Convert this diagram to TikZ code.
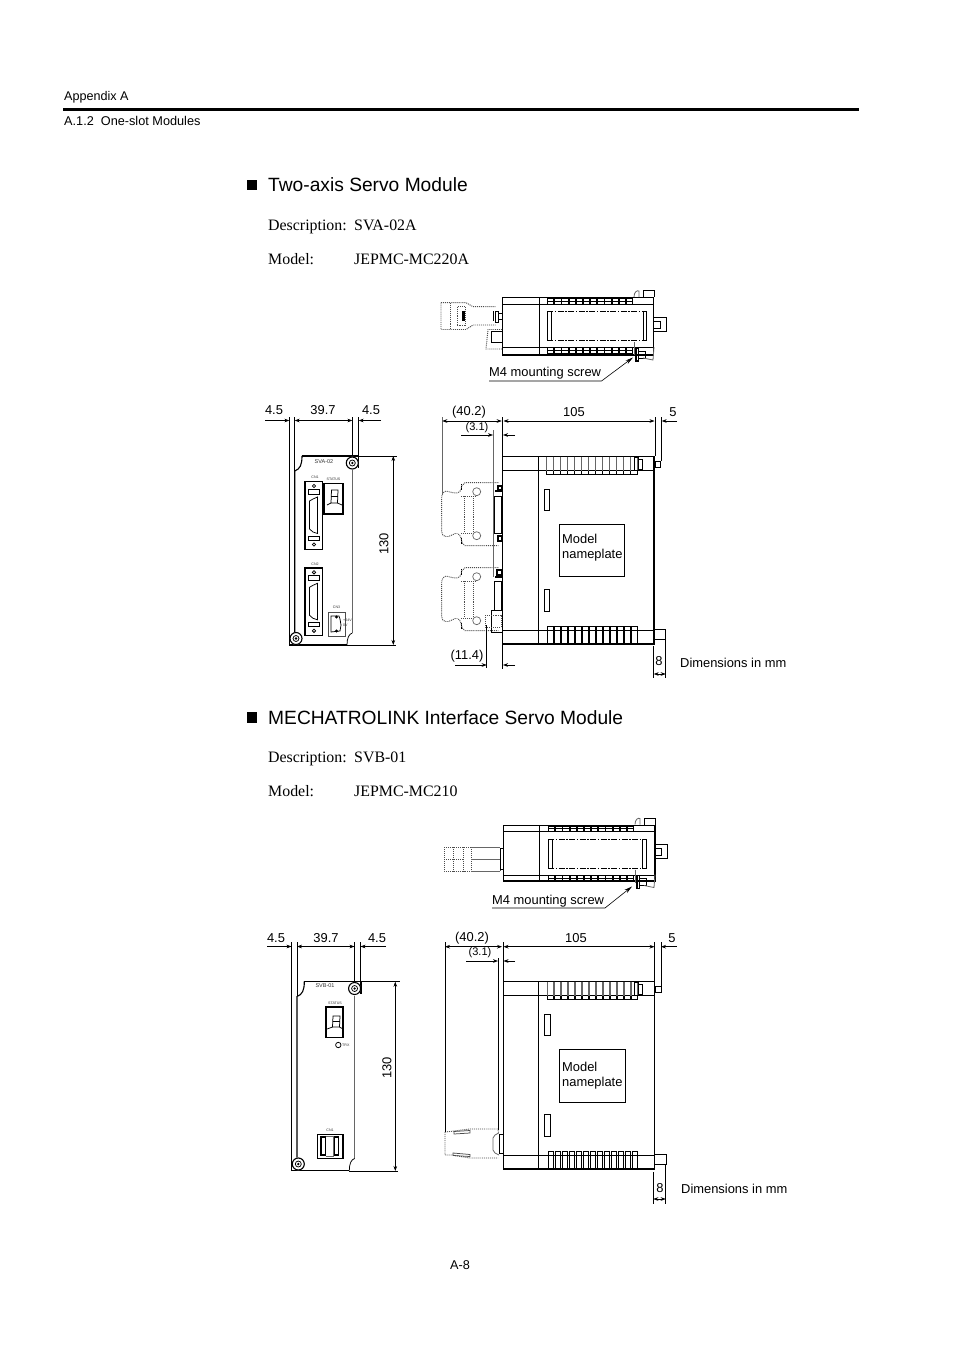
\documentclass[tikz,border=0pt]{standalone}
\usepackage{fontspec}
\setmainfont{Liberation Sans}
\newfontfamily\serifface{Liberation Serif}
\usetikzlibrary{arrows.meta}
\tikzset{
 lbl/.style={inner sep=0pt,font=\fontsize{12.9}{15}\selectfont},
 lft/.style={lbl,anchor=west},
 smallbl/.style={inner sep=0pt,font=\fontsize{11}{13}\selectfont},
 head/.style={inner sep=0pt,anchor=base west,font=\fontsize{19.2}{24}\selectfont},
 desc/.style={inner sep=0pt,anchor=base west,font=\serifface\fontsize{15.9}{18}\selectfont},
 tiny/.style={inner sep=0pt,font=\fontsize{5.5}{6}\selectfont,text=black!80},
 tinier/.style={inner sep=0pt,font=\fontsize{3.6}{4}\selectfont,text=black!80},
 ln/.style={line width=0.75pt},
 hv/.style={line width=1.1pt},
 ext/.style={line width=0.7pt},
 gry/.style={line width=0.8pt,black!60},
 dsh/.style={line width=0.95pt,black!70,densely dotted},
 dim/.style={line width=0.6pt,-{Stealth[length=5pt,width=3.6pt]}},
 dimb/.style={line width=0.6pt,{Stealth[length=5pt,width=3.6pt]}-{Stealth[length=5pt,width=3.6pt]}},
}
% front view panel, common outline
\newcommand{\frontpanel}{
 \draw[hv] (302,456) .. controls (302,465) and (300,469) .. (294.7,471) -- (294.7,632);
 \draw[gry,line width=1pt] (352.3,470) -- (352.3,633);
 \draw[hv] (302,456) -- (346,456);
 \draw[hv] (289.3,645) -- (347,645);
 \draw[ln] (347,645) .. controls (347,638) and (349,634) .. (352.3,633);
 \draw[hv] (346,456) -- (358.7,456) -- (358.7,468);
 \fill[white] (352.3,463) circle (6.3);
 \draw[hv] (352.3,463) circle (6);
 \draw[ln] (352.3,463) circle (3); \fill (352.3,463) circle (1.3);
 \fill[white] (296,638.5) circle (6.3);
 \draw[hv] (296,638.5) circle (6);
 \draw[ln] (296,638.5) circle (3); \fill (296,638.5) circle (1.3);
}
% side view common parts
\newcommand{\sidecommon}{
 \draw[hv] (502.7,456.7) rectangle (654,644);
 \draw[ln] (502.7,470.7) -- (654,470.7);
 \draw[ln] (502.7,630) -- (654,630);
 \foreach \i in {0,...,12}{
  \draw[gry] ({546.7+7*\i},456.7) -- ({546.7+7*\i},470.7);
  \draw[gry] ({553+7*\i},456.7) -- ({553+7*\i},470.7);
  \draw[ln] ({546.7+7*\i},470.7) -- ({546.7+7*\i},474) -- ({553.2+7*\i},474) -- ({553.2+7*\i},470.7);
  \draw[ln] ({547.5+7*\i},644) -- ({547.5+7*\i},626) -- ({553+7*\i},626) -- ({553+7*\i},644);
 }
 \draw[ln] (634,457) rectangle (638,470);
 \draw[ln] (638,459) rectangle (642,469);
 \draw[ln] (655,461) rectangle (660.7,467.5);
 \draw[ln] (654,629.5) rectangle (665.7,639.5);
 \draw[ln] (544.3,489) rectangle (549.7,510.5);
 \draw[ln] (544.3,589) rectangle (549.7,611);
}
% top view common parts
\newcommand{\topslots}{
 \foreach \i in {0,...,11}{
  \draw[ln] ({547.5+7.17*\i},298.5) rectangle ({553.7+7.17*\i},304);
  \draw[ln] ({547.5+7.17*\i},301) -- ({553.7+7.17*\i},301);
  \draw[ln] ({547.5+7.17*\i},347.5) rectangle ({553.7+7.17*\i},353.5);
  \draw[ln] ({547.5+7.17*\i},350.5) -- ({553.7+7.17*\i},350.5);
 }
 \draw[ln] (653.3,317) -- (666,317) -- (666,331) -- (653.3,331);
 \draw[ln] (653.3,321) -- (660,321) -- (660,328) -- (653.3,328);
 \draw[ln] (643,297) -- (643,290.5) -- (654,290.5) -- (654,297);
 \draw[gry] (634,297) .. controls (634,292) and (637,290) .. (639,291) -- (639,297);
 \draw[gry] (634,342) -- (634,355);
 \draw[hv] (636,348) rectangle (638.5,361);
 \draw[ln] (638.5,351) rectangle (645,358);
 \draw[gry] (643,358) -- (653,360) -- (654,347);
}
% dashed connector, side view
\newcommand{\dashconn}[1]{
 \begin{scope}[yshift=#1]
 \draw[dsh] (498.3,482.7) -- (465,482.7) -- (461.7,486) -- (461,490) .. controls (457,497) and (447,489) .. (444,492)
   .. controls (441,495) and (441.7,498) .. (441.7,500) -- (441.7,531.7) .. controls (442,537) and (447,538) .. (452,535)
   .. controls (457,532) and (459,533) .. (461,538) .. controls (462,543) and (463,545) .. (465,545.7) -- (498.3,545.7);
 \draw[dsh] (464.3,496) -- (464.3,533);
 \draw[dsh] (473.3,496) -- (473.3,533);
 \draw[dsh] (461,496) -- (475,496);
 \draw[dsh] (461,533) -- (475,533);
 \fill[white] (476.7,491.7) circle (4); \draw[gry,line width=.7pt] (476.7,491.7) circle (4);
 \fill[white] (476.7,535.7) circle (4); \draw[gry,line width=.7pt] (476.7,535.7) circle (4);
 \draw[ln,densely dotted,line width=1.1pt] (461.7,484) -- (461.7,490);
 \draw[ln,densely dotted,line width=1.1pt] (461.7,538) -- (461.7,544);
 \end{scope}
}
% common D-sub connector, front view
\newcommand{\dsub}[2]{
 \begin{scope}[shift={(#1,#2)}]
  \draw[hv] (305,481.7) rectangle (322.7,549.3);
  \draw[ln] (308.5,489.5) rectangle (319.5,494.5);
  \draw[ln] (308.5,536) rectangle (319.5,540.5);
  \draw[ln] (314,486) circle (1.7); \draw[ln] (314,544.5) circle (1.7);
  \draw[ln] (317.5,497) -- (313,499) -- (309.5,501) -- (309.5,529) -- (313,532) -- (317.5,533.5) -- cycle;
 \end{scope}
}
\begin{document}
\begin{tikzpicture}[x=1pt,y=-1pt]
\useasboundingbox (0,0) rectangle (954,1351);
\fill[white] (0,0) rectangle (954,1351);

% header
\node[lft,font=\fontsize{12.6}{14}\selectfont] (hdA) at (64,97) {Appendix A};
\fill (63,108) rectangle (859,111.5);
\node[lft,font=\fontsize{12.7}{14}\selectfont] (hdB) at (64,121) {A.1.2\ \ One-slot Modules};
\node[lbl,font=\fontsize{12.7}{14}\selectfont] (pg) at (460,1265) {A-8};

% headings
\fill (246.5,180) rectangle (257,190.5);
\node[head] (t1) at (268,192) {Two-axis Servo Module};
\node[desc] (d1a) at (268,230) {Description:};
\node[desc] (d1b) at (354,230) {SVA-02A};
\node[desc] (d1c) at (268,264) {Model:};
\node[desc] (d1d) at (354,264) {JEPMC-MC220A};

\fill (246.5,712) rectangle (257,722.5);
\node[head] (t2) at (268,724) {MECHATROLINK Interface Servo Module};
\node[desc] (d2a) at (268,762) {Description:};
\node[desc] (d2b) at (354,762) {SVB-01};
\node[desc] (d2c) at (268,796) {Model:};
\node[desc] (d2d) at (354,796) {JEPMC-MC210};

%%%%% Top view 1
\draw[hv] (502.3,297.3) rectangle (653.3,355);
\draw[ln] (502.3,304) -- (653.3,304);
\draw[ln] (502.3,347.3) -- (653.3,347.3);
\draw[ln] (539.7,297.3) -- (539.7,355);
\draw[ln,dash pattern=on 6pt off 1.5pt on 1.5pt off 1.5pt] (547.3,311) -- (646.7,311);
\draw[ln,dash pattern=on 6pt off 1.5pt on 1.5pt off 1.5pt] (547.3,340.7) -- (646.7,340.7);
\draw[ln] (547.3,311) rectangle (551,340.7);
\draw[ln] (643,311) rectangle (646.7,340.7);
\topslots
\draw[dsh] (441,302.7) -- (466,302.7) -- (473,306.7) -- (496,306.7);
\draw[dsh] (441,302.7) -- (441,329.5) -- (466,329.5) -- (473,325) -- (496,325);
\draw[dsh] (450.7,303) -- (450.7,329);
\draw[dsh] (457.3,306.7) rectangle (465,325);
\fill (461.5,311) rectangle (464.5,321);
\draw[hv] (493.5,311) -- (493.5,321);
\draw[ln] (495,311) rectangle (498.5,322);
\draw[ln] (498.5,313) rectangle (502.3,319.5);
\draw[dsh] (502,329.5) -- (488,329.5) -- (486,349) -- (502,349);
\draw[ln] (491.7,331.7) rectangle (502.3,342);

\node[lft] (m4a) at (489,373) {M4 mounting screw};
\coordinate (m4aEnd) at (633,357.5);
\draw[line width=0.6pt,-{Stealth[length=8pt,width=4pt]}] (489,381) -- (601.5,381) -- (m4aEnd);

%%%%% Front view 1
\frontpanel
\node[tiny] (sva) at (324,461.5) {SVA-02};
\node[tinier] (cn1) at (315,477) {CN1};
\node[tinier] (stt) at (333.5,479.5) {STATUS};
\dsub{0}{0}
\dsub{0}{86.3}
\node[tinier] (cn2) at (315,564) {CN2};
\node[tinier] (cn3) at (336.5,607.5) {CN3};
\draw[hv] (324,483.5) rectangle (343,514);
\draw[ln] (331.5,490) -- (338,490) -- (337.5,503) -- (331,503) -- cycle;
\draw[ln] (331.2,496.5) -- (337.7,496.5);
\draw[ln] (327,505) -- (331,503); \draw[ln] (337.5,503) -- (342,505);
\draw[line width=1pt,black!70] (328.5,612) rectangle (345,636);
\draw[ln] (331,616) -- (339,616) -- (340,619) -- (341,625) -- (340,631) -- (331,632) -- cycle;
\draw[ln] (336.5,617) circle (1); \draw[ln] (336.5,631) circle (1);
\node[tinier,anchor=west] (v24) at (343,620.5) {+24V};
\node[tinier,anchor=west] (v0) at (343,625.5) {0V};

% dims front 1
\draw[ext] (289.3,417) -- (289.3,645);
\draw[ext] (294.7,417) -- (294.7,471);
\draw[ext] (352.3,417) -- (352.3,456);
\draw[ext] (358.7,417) -- (358.7,456);
\draw[dim] (265,420.5) -- (289.3,420.5);
\draw[dimb] (294.7,420.5) -- (352.3,420.5);
\draw[dim] (381,420.5) -- (358.7,420.5);
\node[lbl] (a1) at (274,410.5) {4.5};
\node[lbl] (a2) at (323,410.5) {39.7};
\node[lbl] (a3) at (371,410.5) {4.5};
\draw[ext] (358.7,456) -- (397,456);
\draw[ext] (347,645) -- (396,645);
\draw[dimb] (393.3,456) -- (393.3,645);
\node[lbl,rotate=90] (a4) at (384,544) {130};

%%%%% Side view 1
\sidecommon
\draw[ln] (538.3,456.7) -- (538.3,644);
\draw[ln] (559.3,524.3) rectangle (624,576.3);
\node[lft] (mp1) at (562,539) {Model};
\node[lft] (mp2) at (562,555) {nameplate};
\dashconn{0}
\dashconn{-85}
\draw[ln] (494.5,496) rectangle (501.7,533);
\draw[hv] (498,486) rectangle (502,490);
\draw[hv] (495,491) -- (502,491);
\draw[hv] (498,536) rectangle (502,541);
\draw[hv] (497,570) rectangle (502,575);
\draw[hv] (495,577) -- (502,577);
\draw[ln] (494.5,581) rectangle (501.7,610);
\draw[ln] (491.7,610) rectangle (502.7,632);
\draw[dsh] (485.7,615) rectangle (501,627);
% dims side 1
\draw[gry,line width=.7pt] (442.3,417) -- (442.3,495);
\draw[ext] (502.7,417) -- (502.7,456);
\draw[ext] (655,417) -- (655,456);
\draw[ext] (661.7,417) -- (661.7,461);
\draw[dimb] (442.3,421) -- (501.7,421);
\draw[dimb] (503.5,421) -- (654.5,421);
\draw[dim] (677,421) -- (661.7,421);
\draw[gry,line width=.8pt] (493.7,430) -- (493.7,577);
\draw[dim] (461,435) -- (493,435);
\draw[dim] (515,435) -- (503,435);
\node[lbl] (b1) at (469,412.5) {(40.2)};
\node[smallbl] (b2) at (477,427.5) {(3.1)};
\node[lbl] (b3) at (574,412.5) {105};
\node[lbl] (b4) at (673,412.5) {5};
\draw[ext] (486.7,625) -- (486.7,668);
\draw[ext] (502.7,644) -- (502.7,669);
\draw[dim] (455,665) -- (486.7,665);
\draw[dim] (515,665) -- (503,665);
\node[lbl] (b5) at (467,656) {(11.4)};
\draw[ext] (653.7,646) -- (653.7,678);
\draw[ext] (665.7,640) -- (665.7,678);
\draw[dimb] (653.7,674) -- (665.7,674);
\node[lbl] (b6) at (659,661) {8};
\node[lft] (b7) at (680,662.5) {Dimensions in mm};

%%%%% Top view 2
\draw[hv] (503.3,825.7) rectangle (655,881);
\draw[ln] (503.3,831.7) -- (655,831.7);
\draw[ln] (503.3,875.7) -- (655,875.7);
\draw[ln] (539.3,825.7) -- (539.3,881);
\draw[ln,dash pattern=on 6pt off 1.5pt on 1.5pt off 1.5pt] (548.3,839) -- (646.7,839);
\draw[ln,dash pattern=on 6pt off 1.5pt on 1.5pt off 1.5pt] (548.3,868.3) -- (646.7,868.3);
\draw[ln] (548.3,839) rectangle (552.5,868.3);
\draw[ln] (642.5,839) rectangle (646.7,868.3);
\begin{scope}[shift={(1,527.5)}]
\topslots
\end{scope}
\draw[dsh] (444.3,847.3) rectangle (500,871);
\draw[dsh] (444.3,859) -- (462,859);
\draw[dsh] (453,847.3) -- (453,871);
\draw[dsh] (463,847.3) -- (463,871);
\draw[dsh] (471,847.3) -- (471,871);
\draw[gry] (471,859) -- (500,859);
\draw[gry,line width=.8pt] (471,847.3) -- (500,847.3);
\draw[gry,line width=.8pt] (471,871) -- (500,871);
\draw[ln] (500,848) rectangle (503.3,869);

\node[lft] (m4b) at (492,901) {M4 mounting screw};
\coordinate (m4bEnd) at (632,886.5);
\draw[line width=0.6pt,-{Stealth[length=8pt,width=4pt]}] (492,908) -- (605,908) -- (m4bEnd);

%%%%% Front view 2
\begin{scope}[shift={(2.3,525.5)}]
\frontpanel
\end{scope}
\node[tiny] (svb) at (325,986) {SVB-01};
\node[tinier] (stb) at (335,1003) {STATUS};
\draw[hv] (326,1007) rectangle (343,1037.5);
\draw[ln] (333,1016) -- (340,1016) -- (339.5,1027) -- (332.5,1027) -- cycle;
\draw[ln] (332.7,1021.5) -- (339.7,1021.5);
\draw[ln] (327,1029) -- (332.5,1027); \draw[ln] (339.5,1027) -- (343,1029);
\draw[ln] (338.3,1045) circle (2.7);
\node[tinier,anchor=west] (trx) at (342,1045) {TRX};
\node[tinier] (cnb) at (330,1130) {CN1};
\draw[hv] (317.5,1134.5) rectangle (343,1158.5);
\draw[hv] (321,1137) rectangle (325.5,1155);
\draw[hv] (334,1137) rectangle (338.5,1155);
\draw[gry] (326,1136.5) -- (333.5,1136.5) -- (333.5,1156) -- (326,1156);
% dims front 2
\draw[ext] (291.5,942) -- (291.5,1171);
\draw[ext] (297,942) -- (297,996);
\draw[ext] (354.5,942) -- (354.5,982);
\draw[ext] (360.5,942) -- (360.5,982);
\draw[dim] (267,946.5) -- (291.5,946.5);
\draw[dimb] (297,946.5) -- (354.5,946.5);
\draw[dim] (386,946.5) -- (360.5,946.5);
\node[lbl] (c1) at (276,938) {4.5};
\node[lbl] (c2) at (326,938) {39.7};
\node[lbl] (c3) at (377,938) {4.5};
\draw[ext] (360.5,981.7) -- (400,981.7);
\draw[ext] (349,1171) -- (398,1171);
\draw[dimb] (395.3,981.7) -- (395.3,1171);
\node[lbl,rotate=90] (c4) at (387,1068) {130};

%%%%% Side view 2
\begin{scope}[shift={(0.5,525)}]
\sidecommon
\end{scope}
\draw[line width=1.5pt] (538.7,981.7) -- (538.7,1169.3);
\draw[ln] (559.3,1049.3) rectangle (625.7,1102.3);
\node[lft] (mq1) at (562,1067) {Model};
\node[lft] (mq2) at (562,1083) {nameplate};
% plug
\draw[dsh] (445,1132) -- (454,1131) -- (470,1129) -- (498,1129) -- (498.5,1133);
\draw[dsh] (445,1132) -- (445,1155) -- (452,1155) -- (470,1158) -- (498,1158);
\draw[ln,black!70] (454,1131.5) -- (470,1130.5) -- (470,1133) -- (454,1134) -- cycle;
\draw[ln,black!70] (453,1153) -- (470,1154.5) -- (470,1156.5) -- (453,1155.5) -- cycle;
\draw[gry] (498.7,1133) -- (495,1135) -- (493,1138) -- (493,1150) -- (495,1153) -- (499,1155);
\draw[ln] (499,1134) rectangle (503.3,1153);
% dims side 2
\draw[ext] (445,942) -- (445,1132);
\draw[ext] (503,942) -- (503,982);
\draw[ext] (654.8,942) -- (654.8,982);
\draw[ext] (661,942) -- (661,986);
\draw[dimb] (445,946.7) -- (502,946.7);
\draw[dimb] (503.5,946.7) -- (654.5,946.7);
\draw[dim] (677,946.7) -- (661,946.7);
\draw[ext] (498.7,958) -- (498.7,1130);
\draw[dim] (466,961) -- (498,961);
\draw[dim] (515,961) -- (503.5,961);
\node[lbl] (e1) at (472,938) {(40.2)};
\node[smallbl] (e2) at (480,953) {(3.1)};
\node[lbl] (e3) at (576,938) {105};
\node[lbl] (e4) at (672,938) {5};
\draw[ext] (653.3,1172) -- (653.3,1204);
\draw[ext] (665.7,1165) -- (665.7,1204);
\draw[dimb] (653.3,1199) -- (665.7,1199);
\node[lbl] (e5) at (660,1188) {8};
\node[lft] (e6) at (681,1189) {Dimensions in mm};
\end{tikzpicture}
\end{document}
